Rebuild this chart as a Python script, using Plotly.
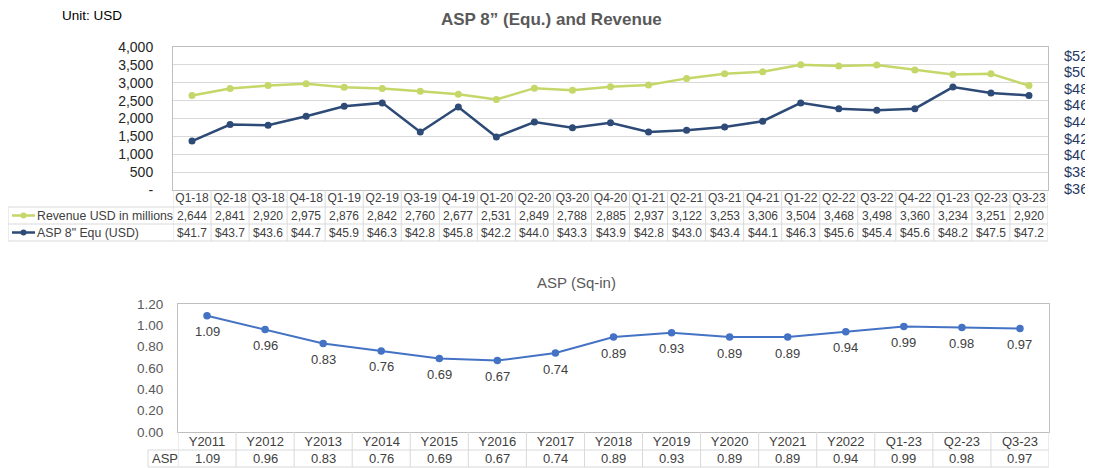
import plotly.graph_objects as go

# ---------------- data ----------------
quarters = ["Q1-18","Q2-18","Q3-18","Q4-18","Q1-19","Q2-19","Q3-19","Q4-19",
            "Q1-20","Q2-20","Q3-20","Q4-20","Q1-21","Q2-21","Q3-21","Q4-21",
            "Q1-22","Q2-22","Q3-22","Q4-22","Q1-23","Q2-23","Q3-23"]
revenue = [2644,2841,2920,2975,2876,2842,2760,2677,2531,2849,2788,2885,
           2937,3122,3253,3306,3504,3468,3498,3360,3234,3251,2920]
asp8 = [41.7,43.7,43.6,44.7,45.9,46.3,42.8,45.8,42.2,44.0,43.3,43.9,
        42.8,43.0,43.4,44.1,46.3,45.6,45.4,45.6,48.2,47.5,47.2]

periods = ["Y2011","Y2012","Y2013","Y2014","Y2015","Y2016","Y2017","Y2018",
           "Y2019","Y2020","Y2021","Y2022","Q1-23","Q2-23","Q3-23"]
asp_sqin = [1.09,0.96,0.83,0.76,0.69,0.67,0.74,0.89,0.93,0.89,0.89,0.94,0.99,0.98,0.97]

rev_ticks = list(range(0, 4001, 500))
rev_ticktext = ["-"] + [f"{v:,}" for v in rev_ticks[1:]]
asp_ticks = list(range(36, 53, 2))
asp_ticktext = [f"${v}" for v in asp_ticks]

OFF = 8  # page body margin
W, H = 1093 - OFF, 468 - OFF
FONT = "Liberation Sans, Arial, sans-serif"
GREEN = "#C4D768"
NAVY = "#2E4A76"
BLUE = "#4472C4"
GRID = "#D9D9D9"
BORDER = "#BFBFBF"
TXT = "#404040"

def PX(v): return (v - OFF) / W
def PY(v): return 1 - (v - OFF) / H

# top chart geometry (window pixels)
T_L, T_R, T_T, T_B = 173, 1048, 47, 190
A2_T, A2_B = 55.5, 188.5          # secondary (ASP) axis extent
T_ROWS = [190, 207, 224, 241]
TBL_L = 8
# bottom chart geometry
B_L, B_R, B_T, B_B = 178, 1049, 304, 432
B_ROWS = [432, 450, 467]
B_TBL_L = 148

nq = len(quarters)
npd = len(periods)

fig = go.Figure()
fig.add_trace(go.Scatter(x=quarters, y=revenue, mode="lines+markers", name="Revenue USD in millions",
                         line=dict(color=GREEN, width=2.5), marker=dict(size=7, color=GREEN),
                         xaxis="x", yaxis="y"))
fig.add_trace(go.Scatter(x=quarters, y=asp8, mode="lines+markers", name='ASP 8" Equ (USD)',
                         line=dict(color=NAVY, width=2.5), marker=dict(size=7, color=NAVY),
                         xaxis="x", yaxis="y2"))
fig.add_trace(go.Scatter(x=periods, y=asp_sqin, mode="lines+markers", name="ASP",
                         line=dict(color=BLUE, width=2), marker=dict(size=7.5, color=BLUE),
                         xaxis="x2", yaxis="y3"))

shapes = []
annotations = []

# data labels of the bottom chart
for p, v in zip(periods, asp_sqin):
    annotations.append(dict(x=p, y=v, xref="x2", yref="y3", text=f"{v:.2f}", showarrow=False,
                            yshift=-16, font=dict(size=13, color=TXT, family=FONT),
                            xanchor="center", yanchor="middle"))

# ---------- top table ----------
for i in range(nq + 1):
    shapes.append(dict(type="line", xref="x", yref="paper", x0=i - 0.5, x1=i - 0.5,
                       y0=PY(T_ROWS[0]), y1=PY(T_ROWS[-1]), line=dict(color=GRID, width=1)))
for r in T_ROWS[1:]:
    shapes.append(dict(type="line", xref="paper", yref="paper", x0=PX(TBL_L), x1=PX(T_R),
                       y0=PY(r), y1=PY(r), line=dict(color=GRID, width=1)))
shapes.append(dict(type="line", xref="paper", yref="paper", x0=PX(TBL_L), x1=PX(TBL_L),
                   y0=PY(T_ROWS[1]), y1=PY(T_ROWS[-1]), line=dict(color=GRID, width=1)))

row_series = [(revenue, lambda v: f"{v:,}", GREEN, "Revenue USD in millions"),
              (asp8, lambda v: f"${v:.1f}", NAVY, 'ASP 8" Equ (USD)')]
for k, (vals, fmt, col, label) in enumerate(row_series):
    yc = (T_ROWS[k + 1] + T_ROWS[k + 2]) / 2
    for i, v in enumerate(vals):
        annotations.append(dict(x=quarters[i], y=PY(yc), xref="x", yref="paper", text=fmt(v),
                                showarrow=False, font=dict(size=12, color=TXT, family=FONT),
                                xanchor="center", yanchor="middle"))
    # legend key
    shapes.append(dict(type="line", xref="paper", yref="paper", x0=PX(12), x1=PX(35),
                       y0=PY(yc), y1=PY(yc), line=dict(color=col, width=2.5)))
    shapes.append(dict(type="circle", xref="paper", yref="paper", x0=PX(20.5), x1=PX(26.5),
                       y0=PY(yc + 3), y1=PY(yc - 3), fillcolor=col, line=dict(color=col, width=0)))
    annotations.append(dict(x=PX(35), y=PY(yc), xref="paper", yref="paper", text=label,
                            showarrow=False, font=dict(size=12.3, color=TXT, family=FONT),
                            xanchor="left", yanchor="middle"))

# ---------- bottom table ----------
for i in range(npd + 1):
    shapes.append(dict(type="line", xref="x2", yref="paper", x0=i - 0.5, x1=i - 0.5,
                       y0=PY(B_ROWS[0]), y1=PY(B_ROWS[-1]), line=dict(color=GRID, width=1)))
for r in B_ROWS[1:]:
    shapes.append(dict(type="line", xref="paper", yref="paper", x0=PX(B_TBL_L), x1=PX(B_R),
                       y0=PY(r), y1=PY(r), line=dict(color=GRID, width=1)))
shapes.append(dict(type="line", xref="paper", yref="paper", x0=PX(B_TBL_L), x1=PX(B_TBL_L),
                   y0=PY(B_ROWS[1]), y1=PY(B_ROWS[2]), line=dict(color=GRID, width=1)))
ycb = (B_ROWS[1] + B_ROWS[2]) / 2
for i, v in enumerate(asp_sqin):
    annotations.append(dict(x=periods[i], y=PY(ycb), xref="x2", yref="paper", text=f"{v:.2f}",
                            showarrow=False, font=dict(size=13, color=TXT, family=FONT),
                            xanchor="center", yanchor="middle"))
annotations.append(dict(x=PX(B_TBL_L + 2), y=PY(ycb), xref="paper", yref="paper", text="ASP",
                        showarrow=False, font=dict(size=13, color=TXT, family=FONT),
                        xanchor="left", yanchor="middle"))

# titles
annotations.append(dict(x=PX(551), y=PY(20), xref="paper", yref="paper",
                        text="<b>ASP 8\u201d (Equ.) and Revenue</b>", showarrow=False,
                        font=dict(size=17, color="#595959", family=FONT), xanchor="center", yanchor="middle"))
annotations.append(dict(x=PX(60), y=PY(15), xref="paper", yref="paper", text="Unit: USD",
                        showarrow=False, font=dict(size=13.5, color="#000000", family=FONT),
                        xanchor="left", yanchor="middle"))
annotations.append(dict(x=PX(576), y=PY(282), xref="paper", yref="paper", text="ASP (Sq-in)",
                        showarrow=False, font=dict(size=15, color="#595959", family=FONT),
                        xanchor="center", yanchor="middle"))

fig.update_layout(
    width=W, height=H, autosize=False,
    margin=dict(l=0, r=0, t=0, b=0, pad=0, autoexpand=False),
    paper_bgcolor="white", plot_bgcolor="rgba(0,0,0,0)",
    showlegend=False,
    font=dict(family=FONT, color=TXT),
    xaxis=dict(domain=[PX(T_L), PX(T_R)], type="category", range=[-0.5, nq - 0.5],
               showgrid=False, showline=True, mirror=True, linecolor=BORDER, linewidth=1,
               ticks="", tickfont=dict(size=12, color=TXT, family=FONT), tickangle=0,
               ticklabelstandoff=-3, automargin=False, anchor="y", fixedrange=True),
    yaxis=dict(domain=[PY(T_B), PY(T_T)], range=[0, 4000], tickvals=rev_ticks, ticktext=rev_ticktext,
               showgrid=True, gridcolor=GRID, zeroline=False, showline=True, mirror=True,
               linecolor=BORDER, ticks="", ticklabelstandoff=16, automargin=False,
               tickfont=dict(size=14, color="#262626", family=FONT), anchor="x"),
    yaxis2=dict(domain=[PY(A2_B), PY(A2_T)], side="right", anchor="x", range=[36, 52],
                tickvals=asp_ticks, ticktext=asp_ticktext,
                showgrid=False, zeroline=False, showline=False, ticks="", ticklabelstandoff=15,
                automargin=False,
                tickfont=dict(size=14.5, color="#1F3864", family=FONT)),
    xaxis2=dict(domain=[PX(B_L), PX(B_R)], type="category", range=[-0.5, npd - 0.5],
                showgrid=False, showline=True, mirror=True, linecolor=BORDER, linewidth=1,
                ticks="", tickfont=dict(size=13, color=TXT, family=FONT), tickangle=0,
                ticklabelstandoff=-3, automargin=False, anchor="y3"),
    yaxis3=dict(domain=[PY(B_B), PY(B_T)], range=[0, 1.2], dtick=0.2, tickformat=".2f",
                showgrid=False, zeroline=False, showline=True, mirror=True, linecolor=BORDER,
                ticks="", ticklabelstandoff=11, automargin=False,
                tickfont=dict(size=13.5, color="#595959", family=FONT), anchor="x2"),
    shapes=shapes,
    annotations=annotations,
)

fig.write_html("out.html")
